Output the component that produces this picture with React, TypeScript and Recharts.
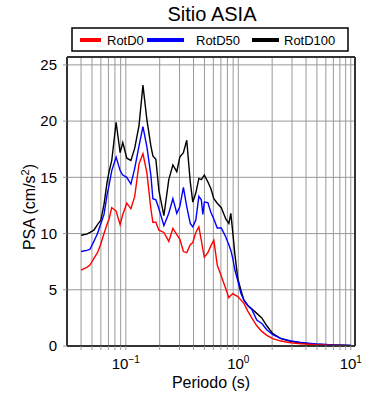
import { LineChart, Line, XAxis, YAxis, CartesianGrid } from 'recharts'

// periodos (s)
const periods = [
  0.04, 0.045, 0.048, 0.052, 0.056, 0.06, 0.064, 0.068, 0.071, 0.075,
  0.082, 0.089, 0.094, 0.102, 0.111, 0.12, 0.131, 0.142, 0.154, 0.167,
  0.174, 0.185, 0.197, 0.218, 0.241, 0.262, 0.284, 0.302, 0.325, 0.348,
  0.374, 0.394, 0.419, 0.446, 0.469, 0.484, 0.499, 0.536, 0.57, 0.606,
  0.65, 0.706, 0.774, 0.824, 0.858, 0.893, 0.931, 0.99, 1.052, 1.119,
  1.214, 1.318, 1.459, 1.618, 1.791, 2.027, 2.387, 2.93, 3.59, 4.89,
  7.07, 10,
]

const rotD100 = [
  9.85, 9.95, 10.1, 10.3, 10.8, 11.2, 12.6, 14.5, 15.5, 16.5,
  19.9, 17.2, 18.1, 16.7, 16.5, 17.6, 19.6, 23.2, 20.1, 17.8,
  16.9, 16.6, 13.8, 11.6, 14.8, 16.1, 15.5, 16.8, 17.2, 18.3,
  14.6, 12.8, 13.6, 14.9, 14.8, 15.0, 15.2, 14.6, 14.0, 13.1,
  12.7, 12.3, 11.3, 10.9, 11.8, 10.1, 8.2, 6.0, 5.0, 4.1,
  3.6, 3.3, 2.9, 2.5, 1.8, 1.1, 0.66, 0.42, 0.27, 0.16,
  0.09, 0.04,
]

const rotD50 = [
  8.4, 8.5, 8.6, 9.3, 10.0, 10.9, 11.7, 13.4, 14.3, 15.6,
  16.8, 15.6, 15.2, 15.0, 14.4, 15.8, 17.8, 19.5, 17.7, 15.2,
  13.1, 13.0, 12.2, 10.7, 11.8, 13.1, 11.8, 12.4, 14.1, 12.4,
  10.9, 10.6, 11.2, 13.3, 13.0, 11.7, 12.8, 12.75, 11.9, 11.3,
  10.5, 10.5, 9.7, 9.0, 8.5, 7.8, 6.8, 5.8, 4.7, 4.1,
  3.6, 3.25, 2.3, 2.0, 1.45, 1.0, 0.68, 0.45, 0.32, 0.18,
  0.09, 0.04,
]

const rotD0 = [
  6.75, 7.0, 7.2, 7.8, 8.3, 9.1, 10.0, 10.8, 11.3, 12.3,
  12.0, 10.8, 11.7, 12.7, 12.2, 13.3, 16.2, 17.1, 15.4, 12.2,
  11.0, 11.0, 10.3, 10.1, 9.3, 10.45, 9.9, 9.5, 8.4, 8.3,
  9.0, 9.2, 10.1, 10.6, 9.4, 8.6, 7.9, 8.3, 8.9, 9.4,
  7.2, 6.2, 5.1, 4.3, 4.5, 4.65, 4.55, 4.4, 4.1, 3.8,
  3.1, 2.5, 1.8, 1.3, 0.95, 0.65, 0.44, 0.29, 0.2, 0.12,
  0.06, 0.03,
]

const xTicks = [
  0.04, 0.05, 0.06, 0.07, 0.08, 0.09,
  0.1, 0.2, 0.3, 0.4, 0.5, 0.6, 0.7, 0.8, 0.9,
  1, 2, 3, 4, 5, 6, 7, 8, 9, 10,
]
const xMajorTicks = [0.1, 1, 10]
const xMajorExp = ['−1', '0', '1']
const yTicks = [0, 5, 10, 15, 20, 25]

const seriesNames = ['RotD0', 'RotD50', 'RotD100']
const seriesKeys = ['rotd0', 'rotd50', 'rotd100']
const seriesColors = ['#ff0000', '#0000ff', '#000000']

const data = periods.map((period, i) => ({
  period,
  rotd0: rotD0[i],
  rotd50: rotD50[i],
  rotd100: rotD100[i],
}))

const FONT = '"Liberation Sans", Arial, Helvetica, sans-serif'
const X_DOMAIN = [0.03, 10.9]
const Y_DOMAIN = [0, 25.7]

function XTick(props: any) {
  const { x, y, payload } = props
  const idx = xMajorTicks.indexOf(payload.value)
  if (idx < 0) return <g />
  return (
    <text x={x} y={y + 17} textAnchor="middle" fontSize={15} fill="#000" fontFamily={FONT}>
      10<tspan dy={-6} fontSize={10}>{xMajorExp[idx]}</tspan>
    </text>
  )
}

function YLabel() {
  return (
    <text transform="translate(35,207) rotate(-90)" textAnchor="middle" fontSize={16} fill="#000" fontFamily={FONT}>
      PSA (cm/s<tspan dy={-6} fontSize={11}>2</tspan><tspan dy={6}>)</tspan>
    </text>
  )
}

function XLabel() {
  return (
    <text x={211} y={388} textAnchor="middle" fontSize={16} fill="#000" fontFamily={FONT}>
      Periodo (s)
    </text>
  )
}

// posiciones de la leyenda (linea x1, x2, texto x)
const legendPos = [
  [80, 101, 107],
  [147, 184, 196],
  [252, 279, 284],
]

export default function App() {
  const axisLine = { stroke: '#333', strokeWidth: 2 }
  const tickLine = { stroke: '#999' }
  return (
    <div style={{ position: 'absolute', left: 0, top: 0, width: 390, height: 400, background: '#fff', fontFamily: FONT }}>
      <LineChart width={390} height={400} data={data} margin={{ top: 0, right: 0, bottom: 0, left: 0 }}>
        <CartesianGrid stroke="#999" strokeWidth={1} />
        <XAxis
          dataKey="period" type="number" scale="log" domain={X_DOMAIN} allowDataOverflow
          ticks={xTicks} interval={0} height={54} tick={<XTick />}
          tickSize={4} axisLine={axisLine} tickLine={tickLine}
          label={{ content: <XLabel /> }}
        />
        <XAxis
          xAxisId="top" orientation="top" dataKey="period" type="number" scale="log" domain={X_DOMAIN}
          allowDataOverflow ticks={xTicks} interval={0} height={57} tick={false}
          tickSize={4} axisLine={axisLine} tickLine={tickLine}
        />
        <YAxis
          type="number" domain={Y_DOMAIN} allowDataOverflow ticks={yTicks} interval={0} width={67}
          tickSize={4} tickMargin={6} axisLine={axisLine} tickLine={tickLine}
          tick={{ fill: '#000', fontSize: 15, fontFamily: FONT }}
          label={{ content: <YLabel /> }}
        />
        <YAxis
          yAxisId="right" orientation="right" type="number" domain={Y_DOMAIN} allowDataOverflow
          ticks={yTicks} interval={0} width={35} tick={false}
          tickSize={4} axisLine={axisLine} tickLine={tickLine}
        />
        <Line type="linear" dataKey="rotd100" stroke="#000000" strokeWidth={1.4} dot={false} isAnimationActive={false} />
        <Line type="linear" dataKey="rotd50" stroke="#0000ff" strokeWidth={1.4} dot={false} isAnimationActive={false} />
        <Line type="linear" dataKey="rotd0" stroke="#ff0000" strokeWidth={1.4} dot={false} isAnimationActive={false} />
      </LineChart>
      <svg width={390} height={56} style={{ position: 'absolute', left: 0, top: 0 }}>
        <text x={212} y={21} textAnchor="middle" fontSize={20} fill="#000" fontFamily={FONT}>
          Sitio ASIA
        </text>
        <rect x={72} y={28} width={276} height={23} fill="#fff" stroke="#000" strokeWidth={1.5} />
        {seriesNames.map((name, i) => (
          <g key={seriesKeys[i]}>
            <line x1={legendPos[i][0]} x2={legendPos[i][1]} y1={40} y2={40} stroke={seriesColors[i]} strokeWidth={4} />
            <text x={legendPos[i][2]} y={44.5} fontSize={13} fill="#000" fontFamily={FONT}>
              {name}
            </text>
          </g>
        ))}
      </svg>
    </div>
  )
}
